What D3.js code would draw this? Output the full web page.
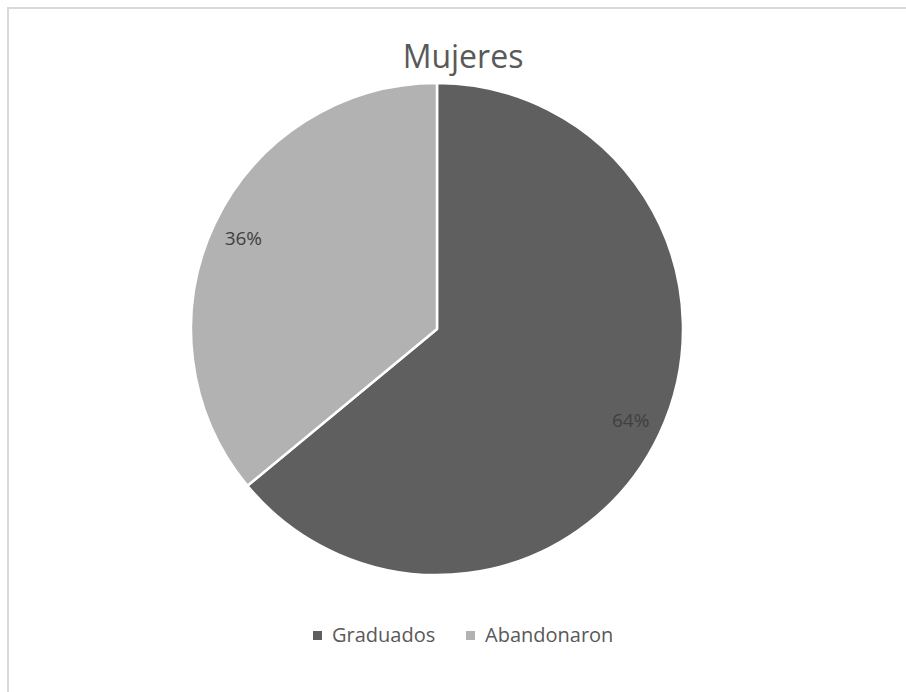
<!DOCTYPE html>
<html>
<head>
<meta charset="utf-8">
<script src="https://cdn.jsdelivr.net/npm/d3@7.9.0/dist/d3.min.js"></script>
<style>
  body { margin: 0; background: #fff; }
  svg { display: block; font-family: "Open Sans", Lato, sans-serif; }
</style>
</head>
<body>
<svg width="906" height="692"></svg>
<script>
// chart data
const title = "Mujeres";
const categories = ["Graduados", "Abandonaron"];
const values = [64, 36];
const colors = ["#5f5f5f", "#b2b2b2"];

const svg = d3.select("svg");

// chart frame (only top and left edges fall inside the window)
svg.append("rect")
  .attr("x", 8).attr("y", 8)
  .attr("width", 920).attr("height", 700)
  .attr("fill", "#fff")
  .attr("stroke", "#d9d9d9")
  .attr("stroke-width", 2);

// title
svg.append("text")
  .attr("x", 463).attr("y", 68)
  .attr("text-anchor", "middle")
  .attr("fill", "#595959")
  .attr("font-size", 32)
  .text(title);

const cx = 437, cy = 329, radius = 246;
const data = categories.map((c, i) => ({ label: c, value: values[i], color: colors[i] }));

const pie = d3.pie().sort(null).value(d => d.value);
const arc = d3.arc().innerRadius(0).outerRadius(radius);
const labelArc = d3.arc().innerRadius(radius * 0.87).outerRadius(radius * 0.87);
const total = d3.sum(values);

const g = svg.append("g").attr("transform", `translate(${cx},${cy})`);

const slices = pie(data);

g.selectAll("path")
  .data(slices)
  .join("path")
  .attr("d", arc)
  .attr("fill", d => d.data.color)
  .attr("stroke", "#fff")
  .attr("stroke-width", 2.5)
  .attr("stroke-linejoin", "round");

g.selectAll("text.lbl")
  .data(slices)
  .join("text")
  .attr("class", "lbl")
  .attr("transform", d => `translate(${labelArc.centroid(d)})`)
  .attr("text-anchor", "middle")
  .attr("dy", "0.35em")
  .attr("fill", "#404040")
  .attr("font-size", 19)
  .text(d => Math.round(d.data.value / total * 100) + "%");

// legend
const legend = svg.append("g").attr("transform", "translate(313,635)");
const legendX = [0, 153];
const items = legend.selectAll("g")
  .data(data)
  .join("g")
  .attr("transform", (d, i) => `translate(${legendX[i]},0)`);

items.append("rect")
  .attr("x", 0).attr("y", -4)
  .attr("width", 9).attr("height", 9)
  .attr("fill", d => d.color);

items.append("text")
  .attr("x", 19).attr("y", 0)
  .attr("dy", "0.35em")
  .attr("fill", "#595959")
  .attr("font-size", 20)
  .text(d => d.label);
</script>
</body>
</html>
